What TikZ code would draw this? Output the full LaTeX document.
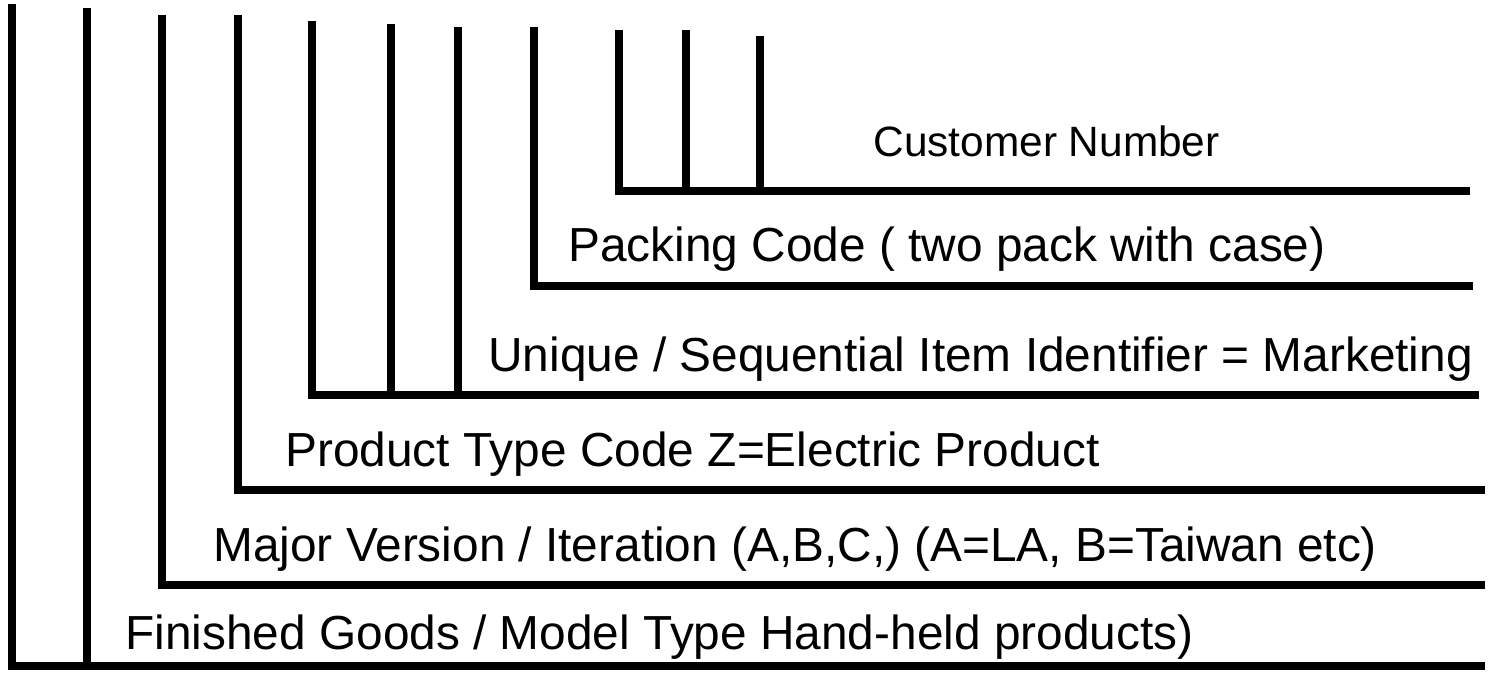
\documentclass[tikz,border=0pt]{standalone}
\usepackage{fontspec}
\setmainfont{Liberation Sans}
\usetikzlibrary{positioning}
\tikzset{x=0.5pt, y=-0.5pt, % one unit is one pixel of the reference
      code bar/.style={ % the thick black rules
      line width=4pt,
      line join=miter},
      code label/.style={ % text sitting on a rule
      anchor=base west,
      inner sep=0pt,
      font=\fontsize{23.9}{28}\selectfont},
      small label/.style={code label,
      font=\fontsize{21.2}{25}\selectfont}}

\begin{document}
\begin{tikzpicture}
      \useasboundingbox (0,0) rectangle (1490,673);
      % corners of each group
      \coordinate (fg) at (12,666);
      \coordinate (mv) at (162,585);
      \coordinate (pt) at (238,490);
      \coordinate (ui) at (312,395);
      \coordinate (pc) at (534,286);
      \coordinate (cn) at (619,191);
      % finished goods
      \draw[code bar] (12,4) -- (fg) -- (1485,666);
      \draw[code bar] (87,8) -- (87,666);
      \node[code label] (fgtext) at (125,650) {Finished Goods / Model Type Hand-held products)};
      % major version
      \draw[code bar] (162,15) -- (mv) -- (1485,585);
      \node[code label] (mvtext) at (213,562) {Major Version / Iteration (A,B,C,) (A=LA, B=Taiwan etc)};
      % product type
      \draw[code bar] (238,15) -- (pt) -- (1485,490);
      \node[code label] (pttext) at (285,467) {Product Type Code Z=Electric Product};
      % unique item identifier
      \draw[code bar] (312,21) -- (ui) -- (1479,395);
      \draw[code bar] (391,24) -- (391,395);
      \draw[code bar] (458,27) -- (458,395);
      \node[code label] (uitext) at (488,372) {Unique / Sequential Item Identifier = Marketing};
      % packing code
      \draw[code bar] (534,27) -- (pc) -- (1473,286);
      \node[code label] (pctext) at (568,262) {Packing Code ( two pack with case)};
      % customer number
      \draw[code bar] (619,30) -- (cn) -- (1470,191);
      \draw[code bar] (686,30) -- (686,191);
      \draw[code bar] (760,36) -- (760,191);
      \node[small label] (cntext) at (873,157) {Customer Number};
    \end{tikzpicture}
\end{document}
